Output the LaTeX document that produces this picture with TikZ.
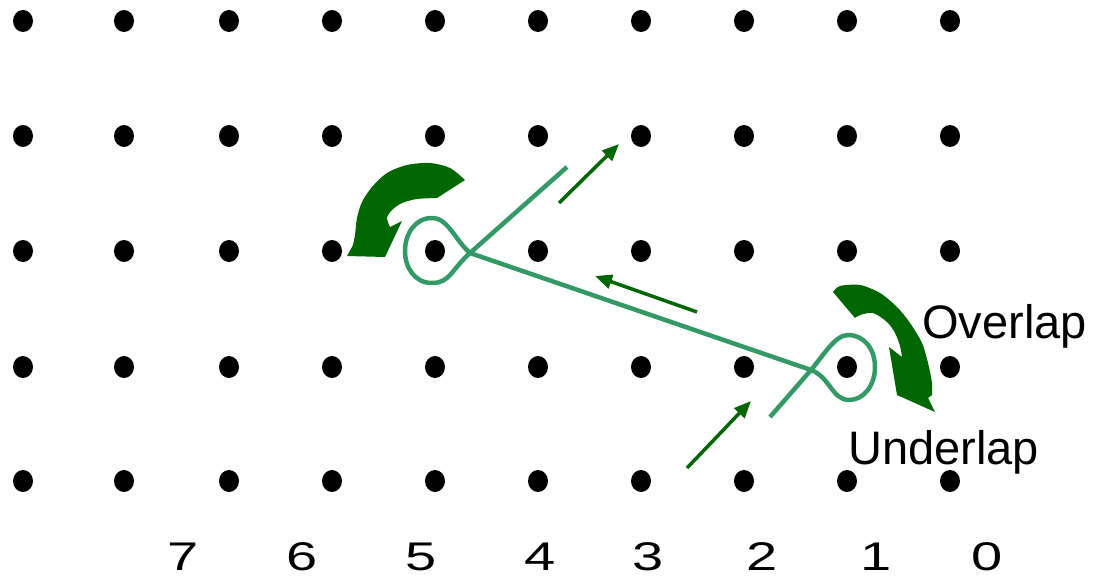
\documentclass[tikz,border=0pt]{standalone}
\usepackage{fontspec}
\setmainfont{Liberation Sans}
\usetikzlibrary{arrows.meta,shapes.geometric}
\definecolor{dkgreen}{HTML}{006600}
\definecolor{mdgreen}{HTML}{339966}
\tikzset{
  dot/.style={ellipse,fill=black,draw=none,minimum width=20pt,minimum height=22pt,inner sep=0pt},
  strand/.style={draw=mdgreen,line width=4.5pt,line join=round},
  smallarrow/.style={draw=dkgreen,line width=3.5pt,-{Triangle[length=17pt,width=14pt]}},
  bigarrow/.style={fill=dkgreen,draw=none},
  lbl/.style={font=\fontsize{47}{50}\selectfont,inner sep=0pt,anchor=base west},
  num/.style={font=\fontsize{40}{44}\selectfont,inner sep=0pt,anchor=base}
}
\begin{document}
\begin{tikzpicture}[x=1pt,y=-1pt]
\useasboundingbox (0,0) rectangle (1093,583);
% grid of dots
\foreach \xx [count=\c] in {23,124,229,332,435,538,641,744,847,950}{
  \foreach \yy [count=\r] in {21,136,251,367,481}{
    \node[dot] (d\c-\r) at (\xx,\yy) {};
  }
}
% column numbers
\foreach \xx/\t in {183/7,302/6,421/5,540/4,648/3,762/2,876/1,987/0}{
  \node[num] (n\t) at (\xx,570) {\scalebox{1.4}[1]{\t}};
}
% strand coordinates
\coordinate (s0) at (567,167);
\coordinate (c1) at (470,253);
\coordinate (c2) at (811,370);
\coordinate (s3) at (770,417);
\draw[strand] (s0) -- (c1)
  .. controls (451,270) and (450,283) .. (432,283)
  .. controls (415,283) and (405,268) .. (405,251)
  .. controls (405,234) and (415,218) .. (432,218)
  .. controls (448,218) and (455,240) .. (c1)
  -- (c2)
  .. controls (830,377) and (832,400) .. (849,400)
  .. controls (864,400) and (875,385) .. (875,367)
  .. controls (875,349) and (864,335) .. (848,335)
  .. controls (835,335) and (823,356) .. (c2)
  -- (s3);
% small arrows
\coordinate (a1s) at (559,203); \coordinate (a1e) at (619,144);
\coordinate (a2s) at (697,312); \coordinate (a2e) at (595,276);
\coordinate (a3s) at (687,468); \coordinate (a3e) at (751,401);
\draw[smallarrow] (a1s) -- (a1e);
\draw[smallarrow] (a2s) -- (a2e);
\draw[smallarrow] (a3s) -- (a3e);
% big curved arrows
\fill[bigarrow] (465,180) -- plot[smooth] coordinates {(465,180) (450,168) (430,163) (407,165) (387,173) (372,187) (362,202) (357,218) (355,235) (353,245)}
  -- (347,256) -- (385,257) -- (402,221) -- (390,227)
  -- plot[smooth] coordinates {(390,227) (387,218) (392,210) (402,203) (417,199) (437,198)} -- cycle;
\fill[bigarrow] (833,292) -- plot[smooth] coordinates {(833,292) (840,286) (860,285) (880,293) (897,307) (910,323) (922,343) (928,363) (932,383) (932,395)}
  -- (928,398) -- (935,412) -- (897,395) -- (889,347) -- (902,357)
  -- plot[smooth] coordinates {(902,357) (900,346) (895,333) (887,322) (873,313) (860,315) (855,318)} -- cycle;
% labels
\node[lbl] (over) at (922,338) {Overlap};
\node[lbl] (under) at (848,464) {Underlap};
\end{tikzpicture}
\end{document}
